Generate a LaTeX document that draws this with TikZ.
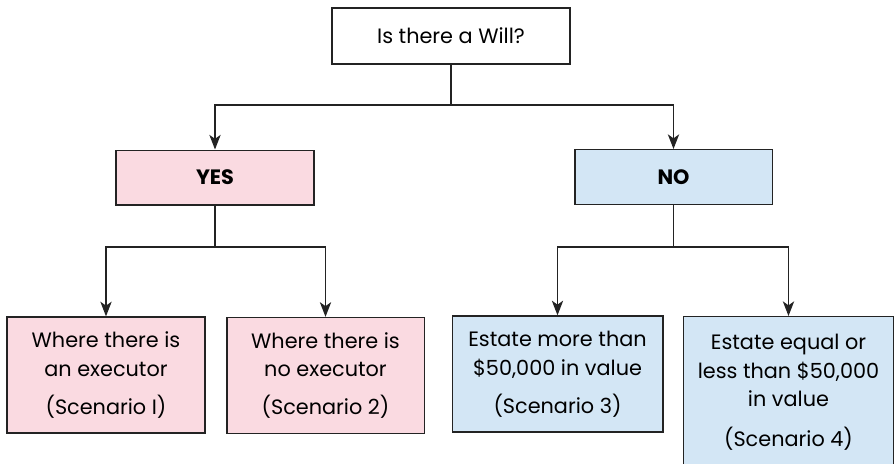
\documentclass[tikz,border=0pt]{standalone}
\usepackage{fontspec}
\setmainfont{Poppins}
\usetikzlibrary{arrows.meta}
\definecolor{yespink}{RGB}{250,218,225}
\definecolor{noblue}{RGB}{211,230,245}
\definecolor{edgegray}{RGB}{35,35,35}
\tikzset{
  box/.style={draw=edgegray, line width=1pt, align=center, inner sep=0pt,
    font=\fontsize{15.6}{21.5}\selectfont},
  yesbox/.style={box, fill=yespink},
  nobox/.style={box, fill=noblue},
  link/.style={draw=edgegray, line width=0.9pt},
  arrowlink/.style={link, -{Stealth[length=11pt,width=8.5pt,inset=3pt]}}
}

\begin{document}
\begin{tikzpicture}[x=0.75pt,y=-0.75pt]
\useasboundingbox (0,0) rectangle (894,464);
\clip (0,0) rectangle (894,464);

\node[box, fill=white, minimum width=178.5pt, minimum height=42pt] (will) at (451,36) {Is there a Will?};

\node[yesbox, minimum width=148.5pt, minimum height=41pt, font=\fontsize{15.6}{16}\selectfont\bfseries] (yes) at (215,177.5) {YES};
\node[nobox, minimum width=148pt, minimum height=41pt, font=\fontsize{15.6}{16}\selectfont\bfseries] (no) at (673.5,177) {NO};

\node[yesbox, minimum width=148.5pt, minimum height=87pt] (exec) at (106,375) {Where there is\\an executor\\[7pt](Scenario I)};
\node[yesbox, minimum width=148pt, minimum height=87pt] (noexec) at (325.5,375.5) {Where there is\\no executor\\[7pt](Scenario 2)};
\node[nobox, minimum width=158pt, minimum height=87pt] (more) at (557.5,374) {Estate more than\\\$50,000 in value\\[7pt](Scenario 3)};
\node[nobox, minimum width=158pt, minimum height=113pt, anchor=north] (less) at (788.5,316) {Estate equal or\\less than \$50,000\\in value\\[8pt](Scenario 4)};

\coordinate (willsplit) at (451,105);
\coordinate (yessplit) at (215,247);
\coordinate (nosplit) at (673.5,247);

\draw[link] (will.south) -- (willsplit);
\draw[arrowlink] (willsplit) -| (yes.north);
\draw[arrowlink] (willsplit) -| (no.north);

\draw[link] (yes.south) -- (yessplit);
\draw[arrowlink] (yessplit) -| (exec.north);
\draw[arrowlink] (yessplit) -| (noexec.north);

\draw[link] (no.south) -- (nosplit);
\draw[arrowlink] (nosplit) -| (more.north);
\draw[arrowlink] (nosplit) -| (less.north);
\end{tikzpicture}
\end{document}
